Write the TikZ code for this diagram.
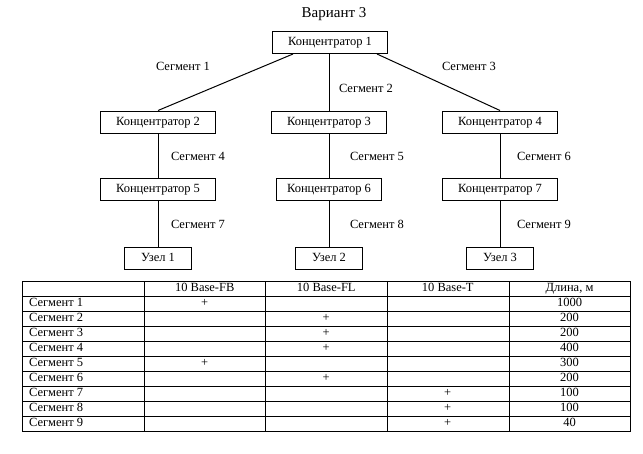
\documentclass[tikz,border=0pt]{standalone}
\usepackage{fontspec}
\setmainfont{Liberation Serif}
\usetikzlibrary{calc}
\tikzset{
	hub/.style={draw, line width=1pt, minimum width=115pt, minimum height=22pt, inner sep=0pt, text height=8.5pt, text depth=2.5pt, font=\fontsize{12.5}{14}\selectfont},
	host/.style={hub, minimum width=67pt},
	seglabel/.style={inner sep=0pt, text height=8.5pt, text depth=2.5pt, font=\fontsize{12.5}{14}\selectfont},
	link/.style={line width=1pt},
	grid/.style={line width=0.9pt}
}

\begin{document}
\begin{tikzpicture}[x=1pt, y=-1pt]
		%%%%% START %%%%%
		\useasboundingbox (0, 0) rectangle (643, 453);
		
		\node[font=\fontsize{15}{18}\selectfont] (title) at (334, 14) {Вариант 3};
		
		\node[hub] (k1) at (330, 42.5) {Концентратор 1};
		\node[hub] (k2) at (158, 122) {Концентратор 2};
		\node[hub] (k3) at (329, 122) {Концентратор 3};
		\node[hub] (k4) at (500, 122) {Концентратор 4};
		\node[hub] (k5) at (158, 189) {Концентратор 5};
		\node[hub, minimum width=105pt] (k6) at (329, 189) {Концентратор 6};
		\node[hub] (k7) at (500, 189) {Концентратор 7};
		\node[host] (u1) at (158, 258.5) {Узел 1};
		\node[host] (u2) at (329, 258.5) {Узел 2};
		\node[host] (u3) at (500, 258.5) {Узел 3};
		
		\draw[link] ($(k1.south)+(-37, 0)$) -- (k2.north);
		\draw[link] (k1.south -| k3.north) -- (k3.north);
		\draw[link] ($(k1.south)+(47, 0)$) -- (k4.north);
		\draw[link] (k2) -- (k5);
		\draw[link] (k3) -- (k6);
		\draw[link] (k4) -- (k7);
		\draw[link] (k5) -- (u1);
		\draw[link] (k6) -- (u2);
		\draw[link] (k7) -- (u3);
		
		\node[seglabel] (s1) at (183, 67) {Сегмент 1};
		\node[seglabel] (s2) at (366, 89) {Сегмент 2};
		\node[seglabel] (s3) at (469, 67) {Сегмент 3};
		\node[seglabel] (s4) at (198, 157) {Сегмент 4};
		\node[seglabel] (s5) at (377, 157) {Сегмент 5};
		\node[seglabel] (s6) at (544, 157) {Сегмент 6};
		\node[seglabel] (s7) at (198, 225) {Сегмент 7};
		\node[seglabel] (s8) at (377, 225) {Сегмент 8};
		\node[seglabel] (s9) at (544, 225) {Сегмент 9};
		
		% table
		\draw[grid] (22.5, 281) rectangle (630, 431);
		\foreach \y in {296, 311, ..., 416}
			\draw[grid] (22.5, \y) -- (630, \y);
		\foreach \x in {144, 265.5, 387, 509}
			\draw[grid] (\x, 281) -- (\x, 431);
		
		\node[seglabel] (h1) at (204.75, 288.5) {10 Base-FB};
		\node[seglabel] (h2) at (326.25, 288.5) {10 Base-FL};
		\node[seglabel] (h3) at (447.75, 288.5) {10 Base-T};
		\node[seglabel] (h4) at (569.5, 288.5) {Длина, м};
		
		\foreach \c/\l [count=\i] in {1/1000, 2/200, 2/200, 2/400, 1/300, 2/200, 3/100, 3/100, 3/40} {
			\node[seglabel, anchor=west] (row\i) at (29, {288.5+15*\i}) {Сегмент \i};
			\node[seglabel] (mark\i) at ({83.25+121.5*\c}, {288.5+15*\i}) {+};
			\node[seglabel] (len\i) at (569.5, {288.5+15*\i}) {\l};
		}
		
		%%%%% END %%%%%
\end{tikzpicture}
\end{document}
